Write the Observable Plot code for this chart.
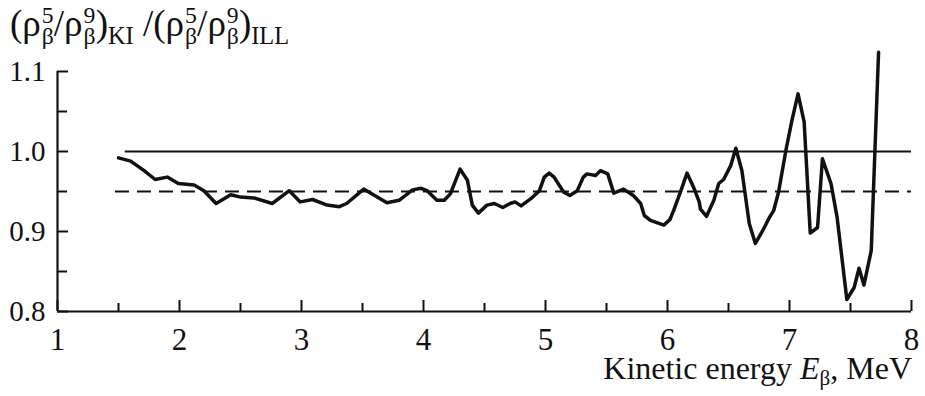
<!DOCTYPE html>
<html>
<head>
<meta charset="utf-8">
<script src="https://cdn.jsdelivr.net/npm/d3@7"></script>
<script src="https://cdn.jsdelivr.net/npm/@observablehq/plot@0.6"></script>
<style>
  html, body { margin: 0; padding: 0; background: #fff; }
  #wrap { position: relative; width: 925px; height: 396px; overflow: hidden; font-family: "Liberation Serif", serif; color: #111; }
  #title { position: absolute; left: 10px; top: 5px; font-size: 37px; white-space: nowrap; line-height: 1; font-family: "Liberation Serif", serif; }
  .ss { display: inline-block; vertical-align: -0.33em; font-size: 0.64em; line-height: 0.86; text-align: left; margin-left: 1px; }
  .ss span { display: block; }
  .sb { font-size: 0.66em; vertical-align: -0.33em; }
  #xlabel { position: absolute; right: 13px; top: 352px; font-size: 32px; white-space: nowrap; line-height: 1; font-family: "Liberation Serif", serif; }
  #xlabel sub { font-size: 0.66em; vertical-align: -0.3em; line-height: 0; }
  #chart { position: absolute; left: 0; top: 0; }
  #chart svg, #chart svg text { font-family: "Liberation Serif", serif !important; }
</style>
</head>
<body>
<div id="wrap">
  <div id="chart"></div>
  <div id="title">(ρ<span class="ss"><span>5</span><span>β</span></span>/ρ<span class="ss"><span>9</span><span>β</span></span>)<span class="sb">KI</span> /(ρ<span class="ss"><span>5</span><span>β</span></span>/ρ<span class="ss"><span>9</span><span>β</span></span>)<span class="sb">ILL</span></div>
  <div id="xlabel">Kinetic energy <i>E</i><sub>β</sub>, MeV</div>
</div>
<script>
// Data
const energy = [1.50,1.60,1.71,1.80,1.90,1.99,2.12,2.20,2.30,2.42,2.50,2.61,2.76,2.90,2.99,3.09,3.21,3.31,3.37,3.51,3.70,3.80,3.91,3.98,4.03,4.11,4.17,4.22,4.30,4.36,4.40,4.45,4.52,4.58,4.65,4.71,4.75,4.80,4.88,4.95,4.99,5.03,5.07,5.15,5.20,5.26,5.31,5.34,5.41,5.45,5.51,5.56,5.64,5.72,5.78,5.81,5.86,5.97,6.02,6.05,6.11,6.16,6.22,6.26,6.27,6.32,6.38,6.42,6.46,6.52,6.56,6.61,6.67,6.72,6.78,6.83,6.87,6.91,6.97,7.02,7.07,7.12,7.17,7.23,7.27,7.34,7.39,7.47,7.53,7.57,7.61,7.67,7.73];
const ratio = [0.992,0.988,0.976,0.965,0.968,0.960,0.958,0.951,0.935,0.946,0.943,0.942,0.935,0.951,0.937,0.940,0.933,0.931,0.935,0.953,0.936,0.939,0.952,0.954,0.951,0.939,0.939,0.947,0.978,0.964,0.933,0.923,0.933,0.935,0.930,0.935,0.937,0.932,0.941,0.951,0.968,0.973,0.968,0.949,0.945,0.951,0.968,0.972,0.970,0.976,0.972,0.948,0.953,0.945,0.935,0.920,0.914,0.908,0.915,0.926,0.951,0.973,0.953,0.937,0.928,0.919,0.939,0.960,0.965,0.983,1.004,0.976,0.910,0.885,0.901,0.916,0.926,0.949,1.001,1.039,1.072,1.037,0.898,0.905,0.991,0.960,0.918,0.815,0.830,0.854,0.833,0.876,1.124];

// Reference lines
const solidLevel = [1.0];
const solidStart = [1.555];
const dashedLevel = [0.95];
const dashedStart = [1.475];
const xEnd = 8;

// Ticks
const xMajor = [1,2,3,4,5,6,7,8];
const xMinor = [1.5,2.5,3.5,4.5,5.5,6.5,7.5];
const yMajor = [0.8,0.9,1.0,1.1];
const yMinor = [0.85,0.95,1.05];

const W = 925, H = 396;
const mL = 57, mR = 14, mT = 71, mB = 85;
const plotW = W - mL - mR, plotH = H - mT - mB;

const curve = energy.map((e, i) => ({e, r: ratio[i]}));
const hlines = [
  {x1: solidStart[0], x2: xEnd, y: solidLevel[0]},
  {x1: dashedStart[0], x2: xEnd, y: dashedLevel[0]}
];

const chart = Plot.plot({
  width: W, height: H,
  marginLeft: mL, marginRight: mR, marginTop: mT, marginBottom: mB,
  style: {fontFamily: "'Liberation Serif', serif", color: "#111", background: "#fff", overflow: "visible"},
  x: {domain: [1, 8]},
  y: {domain: [0.8, 1.1]},
  marks: [
    Plot.axisY({ticks: yMajor, tickSize: 0, tickPadding: 12, tickFormat: d => d.toFixed(1), fontSize: 29, label: null, stroke: "none"}),
    Plot.axisX({ticks: xMajor, tickSize: 0, tickPadding: 16, tickFormat: d => String(d), fontSize: 31, label: null, stroke: "none"}),
    Plot.ruleY(yMajor, {y: d => d, stroke: "#111", strokeWidth: 2, insetRight: plotW - 11}),
    Plot.ruleY(yMinor, {y: d => d, stroke: "#111", strokeWidth: 2, insetRight: plotW - 10}),
    Plot.ruleX(xMajor, {x: d => d, stroke: "#111", strokeWidth: 2, insetTop: plotH - 11}),
    Plot.ruleX(xMinor, {x: d => d, stroke: "#111", strokeWidth: 2, insetTop: plotH - 8}),
    Plot.ruleX([1], {stroke: "#111", strokeWidth: 2.2}),
    Plot.ruleY([0.8], {stroke: "#111", strokeWidth: 2.2}),
    Plot.ruleY(hlines.slice(0,1), {x1: "x1", x2: "x2", y: "y", stroke: "#111", strokeWidth: 2}),
    Plot.ruleY(hlines.slice(1), {x1: "x1", x2: "x2", y: "y", stroke: "#111", strokeWidth: 2, strokeDasharray: "14,8"}),
    Plot.line(curve, {x: "e", y: "r", stroke: "#111", strokeWidth: 3.5, strokeLinejoin: "round", strokeLinecap: "round"})
  ]
});
document.getElementById("chart").appendChild(chart);
</script>
</body>
</html>
